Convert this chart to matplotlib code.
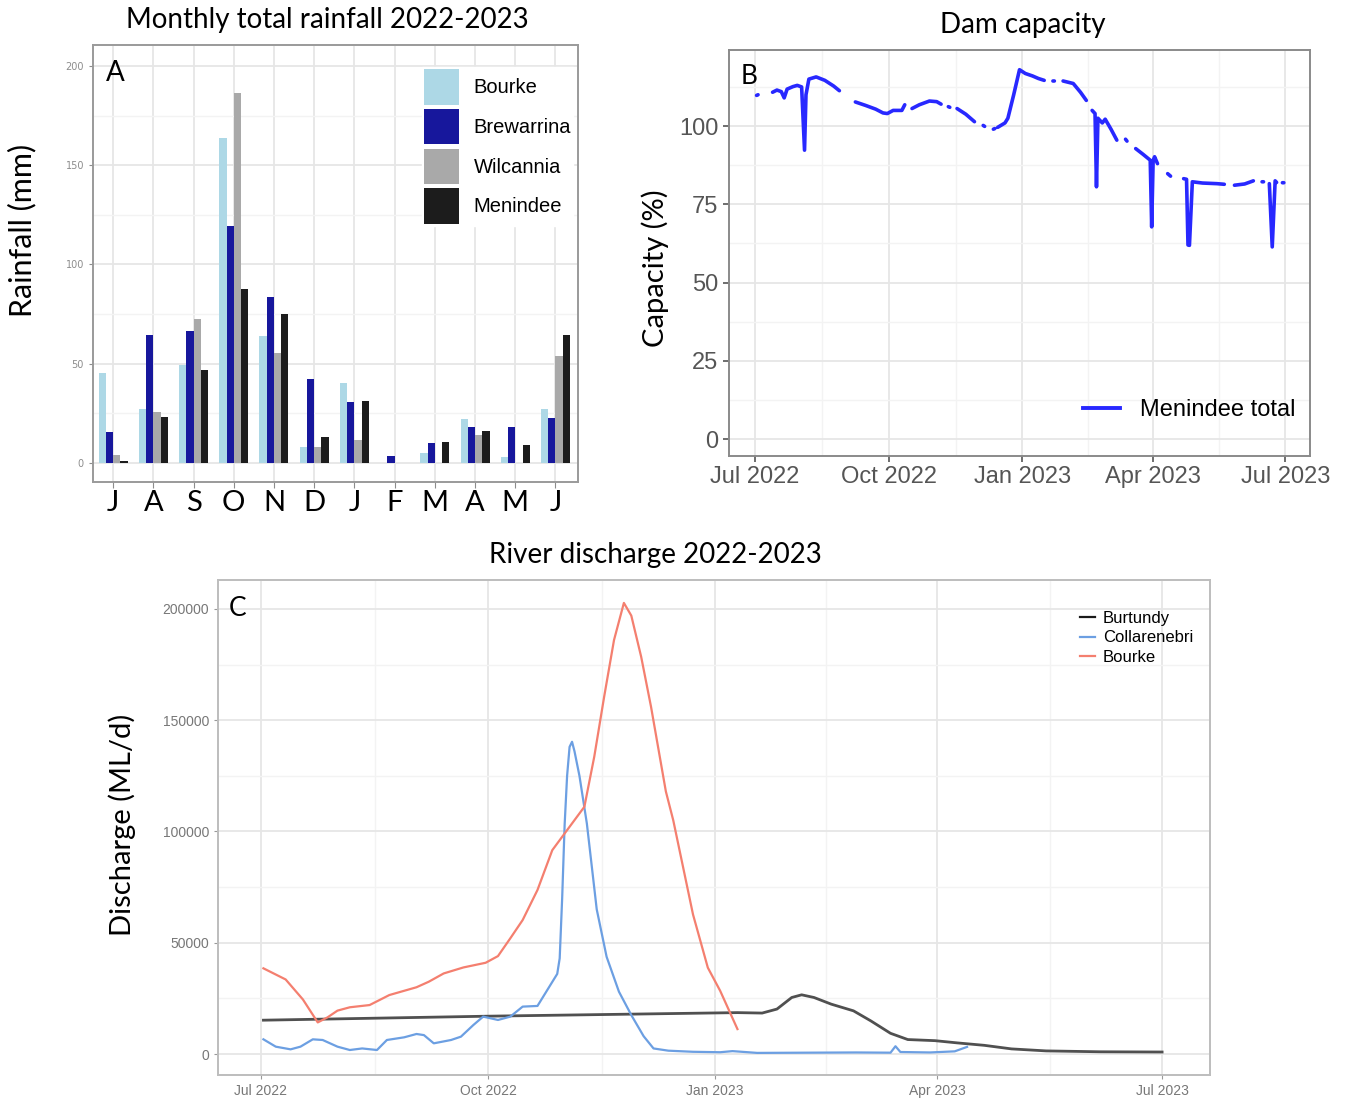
import numpy as np
import pandas as pd
import matplotlib
matplotlib.use('Agg')
import matplotlib.pyplot as plt
import matplotlib.dates as mdates
from matplotlib.patches import Patch
from matplotlib.lines import Line2D

# ---- panel A: monthly rainfall (mm), Jul 2022 - Jun 2023
months = ['J', 'A', 'S', 'O', 'N', 'D', 'J', 'F', 'M', 'A', 'M', 'J']
rain_stations = ['Bourke', 'Brewarrina', 'Wilcannia', 'Menindee']
rain_bourke = [45.4, 27, 49.6, 163.5, 63.9, 8, 40.3, 0, 5, 22, 3, 27]
rain_brewarrina = [15.6, 64.7, 66.4, 119.3, 83.5, 42.5, 30.6, 3.7, 10, 18, 18, 22.7]
rain_wilcannia = [4.2, 25.7, 72.6, 186.6, 55.5, 8, 11.8, 0, 0, 14, 0, 53.8]
rain_menindee = [1, 23, 47, 87.9, 75.1, 13, 31, 0, 10.4, 16.3, 9, 64.7]
rain_colors = ['#add8e6', '#17179c', '#a9a9a9', '#1c1c1c']

# ---- panel B: Menindee total capacity (%), gaps are missing records
cap_dates = ['2022-07-02', '2022-07-03', '2022-07-07',
             '2022-07-13', '2022-07-16', '2022-07-19', '2022-07-21', '2022-07-23', '2022-07-27',
             '2022-07-30', '2022-08-02', '2022-08-04', '2022-08-05', '2022-08-07', '2022-08-12',
             '2022-08-18', '2022-08-24', '2022-08-28', '2022-09-03',
             '2022-09-08', '2022-09-15', '2022-09-22', '2022-09-27', '2022-09-30', '2022-10-04',
             '2022-10-10', '2022-10-12', '2022-10-14',
             '2022-10-17', '2022-10-22', '2022-10-29', '2022-11-03', '2022-11-06', '2022-11-09',
             '2022-11-11', '2022-11-12', '2022-11-14',
             '2022-11-17', '2022-11-23', '2022-11-29', '2022-12-02',
             '2022-12-05', '2022-12-06', '2022-12-09',
             '2022-12-12', '2022-12-13', '2022-12-14',
             '2022-12-15', '2022-12-20', '2022-12-22', '2022-12-26', '2022-12-30', '2023-01-03',
             '2023-01-08', '2023-01-12', '2023-01-16', '2023-01-19',
             '2023-01-22', '2023-01-23', '2023-01-25',
             '2023-01-29', '2023-02-05', '2023-02-10', '2023-02-14', '2023-02-16',
             '2023-02-18', '2023-02-20', '2023-02-21', '2023-02-22', '2023-02-25', '2023-02-27',
             '2023-03-03', '2023-03-07', '2023-03-10',
             '2023-03-13', '2023-03-14', '2023-03-16',
             '2023-03-20', '2023-03-25', '2023-03-30', '2023-03-31', '2023-04-01', '2023-04-02',
             '2023-04-04', '2023-04-07',
             '2023-04-11', '2023-04-13', '2023-04-16',
             '2023-04-22', '2023-04-24', '2023-04-25', '2023-04-26', '2023-04-28', '2023-05-05',
             '2023-05-15', '2023-05-20', '2023-05-24',
             '2023-05-27', '2023-06-03', '2023-06-09', '2023-06-12',
             '2023-06-15', '2023-06-16', '2023-06-18',
             '2023-06-20', '2023-06-22', '2023-06-24', '2023-06-25', '2023-06-27',
             '2023-06-29', '2023-06-30']
cap_values = [109.8, 110.0, np.nan,
              110.8, 111.5, 111.0, 109.0, 111.8, 112.6,
              113.0, 112.5, 92.3, 110.0, 115.0, 115.7,
              114.6, 112.8, 111.3, np.nan,
              107.7, 106.6, 105.4, 104.2, 104.0, 105.0,
              105.0, 106.8, np.nan,
              105.6, 106.8, 108.0, 107.8, 107.0, np.nan,
              106.2, 106.0, np.nan,
              105.6, 103.8, 101.4, np.nan,
              100.2, 99.9, np.nan,
              99.0, 99.2, np.nan,
              99.6, 101.0, 102.5, 110.0, 118.0, 116.8,
              116.0, 115.2, 114.6, np.nan,
              114.4, 114.4, np.nan,
              114.4, 113.6, 110.8, 108.2, np.nan,
              105.0, 104.0, 80.6, 102.5, 101.0, 102.2,
              99.0, 95.5, np.nan,
              95.8, 95.2, np.nan,
              92.8, 91.0, 89.1, 67.8, 89.0, 90.2,
              88.0, np.nan,
              84.8, 84.0, np.nan,
              83.2, 83.0, 62.0, 61.9, 82.2, 81.8,
              81.6, 81.4, np.nan,
              81.1, 81.5, 82.5, np.nan,
              82.2, 82.2, np.nan,
              81.6, 61.4, 82.5, 82.0, np.nan,
              81.9, 81.9]

# ---- panel C: river discharge (ML/d)
burtundy_dates = ['2022-07-02', '2022-10-01', '2023-01-10', '2023-01-20', '2023-01-26',
                  '2023-02-01', '2023-02-05', '2023-02-10', '2023-02-17', '2023-02-26',
                  '2023-03-05', '2023-03-13', '2023-03-20', '2023-03-31', '2023-04-09',
                  '2023-04-20', '2023-05-01', '2023-05-15', '2023-06-06', '2023-07-01']
burtundy_flow = [15200, 17000, 18600, 18400, 20200,
                 25400, 26600, 25400, 22400, 19400,
                 14900, 9300, 6500, 6000, 5000,
                 3900, 2300, 1400, 1000, 900]

collarenebri_dates = ['2022-07-02', '2022-07-07', '2022-07-13', '2022-07-17', '2022-07-22',
                      '2022-07-26', '2022-08-01', '2022-08-06', '2022-08-11', '2022-08-17',
                      '2022-08-21', '2022-08-28', '2022-09-02', '2022-09-05', '2022-09-09',
                      '2022-09-16', '2022-09-20', '2022-09-25', '2022-09-29', '2022-10-05',
                      '2022-10-10', '2022-10-15', '2022-10-21', '2022-10-25', '2022-10-29',
                      '2022-10-30', '2022-10-31', '2022-11-01', '2022-11-02', '2022-11-03',
                      '2022-11-04', '2022-11-05', '2022-11-07', '2022-11-10', '2022-11-14',
                      '2022-11-18', '2022-11-23', '2022-11-28', '2022-12-03', '2022-12-07',
                      '2022-12-13', '2022-12-23', '2023-01-03', '2023-01-08', '2023-01-18',
                      '2023-02-07', '2023-02-27', '2023-03-13', '2023-03-15', '2023-03-17',
                      '2023-03-29', '2023-04-08', '2023-04-13']
collarenebri_flow = [6600, 3300, 2100, 3300, 6600,
                     6300, 3300, 1800, 2500, 1800,
                     6300, 7500, 9000, 8500, 4800,
                     6300, 7800, 13000, 16800, 15300,
                     16800, 21300, 21600, 28800, 36000,
                     43000, 70000, 103000, 125000, 138000,
                     140300, 136000, 125000, 103600, 65000,
                     43700, 28000, 17500, 8000, 2500,
                     1500, 1000, 800, 1300, 500,
                     600, 700, 600, 3500, 900,
                     700, 1200, 3200]

bourke_dates = ['2022-07-02', '2022-07-11', '2022-07-18', '2022-07-24', '2022-07-28',
                '2022-08-01', '2022-08-06', '2022-08-14', '2022-08-22', '2022-09-02',
                '2022-09-07', '2022-09-13', '2022-09-21', '2022-09-30', '2022-10-05',
                '2022-10-10', '2022-10-15', '2022-10-21', '2022-10-27', '2022-11-03',
                '2022-11-09', '2022-11-13', '2022-11-17', '2022-11-21', '2022-11-25',
                '2022-11-28', '2022-12-02', '2022-12-06', '2022-12-12', '2022-12-15',
                '2022-12-23', '2022-12-29', '2023-01-03', '2023-01-10']
bourke_flow = [38500, 33500, 24500, 14200, 16500,
               19500, 21000, 22000, 26500, 30000,
               32500, 36200, 38900, 41000, 44000,
               52000, 60200, 73700, 91600, 102100,
               111100, 133600, 160500, 186000, 202700,
               197000, 178500, 156000, 118000, 105000,
               62700, 38800, 28400, 11200]

quarter_dates = ['2022-07-01', '2022-10-01', '2023-01-01', '2023-04-01', '2023-07-01']
quarter_labels = ['Jul 2022', 'Oct 2022', 'Jan 2023', 'Apr 2023', 'Jul 2023']

W, H = 1345, 1098
fig = plt.figure(figsize=(W / 100, H / 100), dpi=100)
fig.patch.set_facecolor('white')

title_font = 'Lato'
tick_font = 'Liberation Sans'
grid_major = '#e6e6e6'
grid_minor = '#f3f3f3'


def box(left, top, right, bottom):
    return [left / W, 1 - bottom / H, (right - left) / W, (bottom - top) / H]


def ftext(x, y, s, **kw):
    fig.text(x / W, 1 - y / H, s, **kw)


def style_frame(ax, edge):
    for sp in ax.spines.values():
        sp.set_color(edge)
        sp.set_linewidth(1.4)
    ax.set_axisbelow(True)
    ax.grid(which='major', color=grid_major, lw=1.3)
    ax.grid(which='minor', color=grid_minor, lw=1.0)
    ax.tick_params(which='minor', length=0)


# ---------------- panel A
axA = fig.add_axes(box(93, 45, 578, 482))
xpos = np.arange(len(months))
bw = 0.18
for i, (vals, col, name) in enumerate(zip([rain_bourke, rain_brewarrina, rain_wilcannia, rain_menindee],
                                          rain_colors, rain_stations)):
    axA.bar(xpos + (i - 1.5) * bw, vals, bw, color=col, label=name, zorder=2)
axA.set_xlim(-0.5, 11.56)
axA.set_ylim(-9.6, 210.6)
axA.set_yticks([0, 50, 100, 150, 200])
axA.set_yticks([25, 75, 125, 175], minor=True)
axA.set_xticks(xpos)
axA.set_xticklabels(months, fontsize=21, family=title_font)
axA.tick_params(axis='y', labelsize=7, labelcolor='#8c8c8c', color='#8c8c8c', length=3)
axA.tick_params(axis='x', color='#8c8c8c', length=4, pad=2)
style_frame(axA, '#9a9a9a')
axA.grid(which='minor', axis='x', visible=False)
handlesA = [Patch(facecolor=c, edgecolor='none') for c in rain_colors]
axA.legend(handlesA, rain_stations, loc='upper left', bbox_to_anchor=(0.657, 0.972),
           prop={'family': tick_font, 'size': 14.5}, handlelength=1.76, handleheight=2.34,
           labelspacing=0.2, handletextpad=0.72, borderpad=0.1, frameon=True,
           fancybox=False, edgecolor='white', framealpha=1)
ftext(115, 73, 'A', fontsize=20, family=title_font, ha='center', va='center')
ftext(327, 20, 'Monthly total rainfall 2022-2023', fontsize=20, family=title_font, ha='center', va='center')
ftext(22, 230, 'Rainfall (mm)', fontsize=22, family=title_font, ha='center', va='center', rotation=90)

# ---------------- panel B
qd = pd.to_datetime(quarter_dates)
axB = fig.add_axes(box(729, 50, 1310, 456))
axB.plot(pd.to_datetime(cap_dates), cap_values, color='#2828ff', lw=2.6, solid_capstyle='round',
         label='Menindee total', zorder=3)
axB.set_xlim(qd[0] - pd.Timedelta(days=18), qd[-1] + pd.Timedelta(days=17))
axB.set_ylim(-5.4, 124.3)
axB.set_xticks(qd)
axB.set_xticklabels(quarter_labels)
qnum = mdates.date2num(qd)
axB.set_xticks((qnum[:-1] + qnum[1:]) / 2, minor=True)
axB.set_yticks([0, 25, 50, 75, 100])
axB.set_yticks([12.5, 37.5, 62.5, 87.5, 112.5], minor=True)
for lab in axB.get_xticklabels() + axB.get_yticklabels():
    lab.set_family(tick_font)
axB.tick_params(labelsize=17, labelcolor='#555555', color='#555555', length=4, width=1.2)
style_frame(axB, '#8a8a8a')
axB.legend(handles=[Line2D([], [], color='#2828ff', lw=2.8)], labels=['Menindee total'],
           loc='center left', bbox_to_anchor=(0.609, 0.113), frameon=False,
           prop={'family': tick_font, 'size': 17}, handlelength=1.57, handletextpad=0.85,
           borderpad=0, borderaxespad=0)
ftext(749, 77, 'B', fontsize=19, family=title_font, ha='center', va='center')
ftext(1023, 25, 'Dam capacity', fontsize=20, family=title_font, ha='center', va='center')
ftext(655, 268, 'Capacity (%)', fontsize=21, family=title_font, ha='center', va='center', rotation=90)

# ---------------- panel C
axC = fig.add_axes(box(218, 580, 1210, 1075))
axC.plot(pd.to_datetime(burtundy_dates), burtundy_flow, color='#505050', lw=2.0, label='Burtundy', zorder=3)
axC.plot(pd.to_datetime(collarenebri_dates), collarenebri_flow, color='#6c9fe2', lw=1.6,
         label='Collarenebri', zorder=3)
axC.plot(pd.to_datetime(bourke_dates), bourke_flow, color='#f47f6f', lw=1.6, label='Bourke', zorder=3)
axC.set_xlim(qd[0] - pd.Timedelta(days=17.4), qd[-1] + pd.Timedelta(days=19.4))
axC.set_ylim(-9430, 213000)
axC.set_xticks(qd)
axC.set_xticklabels(quarter_labels)
axC.set_xticks((qnum[:-1] + qnum[1:]) / 2, minor=True)
yt = [0, 50000, 100000, 150000, 200000]
axC.set_yticks(yt)
axC.set_yticklabels([str(v) for v in yt])
axC.set_yticks([25000, 75000, 125000, 175000], minor=True)
for lab in axC.get_xticklabels() + axC.get_yticklabels():
    lab.set_family(tick_font)
axC.tick_params(labelsize=10, labelcolor='#777777', color='#999999', length=3)
style_frame(axC, '#bdbdbd')
legC = [Line2D([], [], color=c, lw=1.6) for c in ['#1a1a1a', '#6c9fe2', '#f47f6f']]
axC.legend(legC, ['Burtundy', 'Collarenebri', 'Bourke'], loc='upper left',
           bbox_to_anchor=(0.869, 0.937), frameon=False, prop={'family': tick_font, 'size': 12},
           handlelength=0.9, handletextpad=0.48, labelspacing=0.25, borderpad=0, borderaxespad=0)
ftext(238, 609, 'C', fontsize=19, family=title_font, ha='center', va='center')
ftext(655, 555, 'River discharge 2022-2023', fontsize=20, family=title_font, ha='center', va='center')
ftext(122, 825, 'Discharge (ML/d)', fontsize=21, family=title_font, ha='center', va='center', rotation=90)

fig.savefig('out.png', dpi=100, facecolor='white')
